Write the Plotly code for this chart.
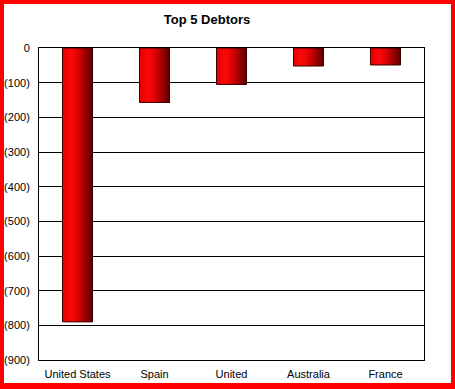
import plotly.graph_objects as go

categories = ["United States", "Spain", "United", "Australia", "France"]
values = [-790, -157, -105, -52, -49]
y_tickvals = [0, -100, -200, -300, -400, -500, -600, -700, -800, -900]
y_ticktext = ["0", "(100)", "(200)", "(300)", "(400)", "(500)", "(600)", "(700)", "(800)", "(900)"]

W, H = 455, 389
L, R, T, B = 39, 31, 48, 29
pw, ph = W - L - R, H - T - B

xs = list(range(len(categories)))
bar_w = 0.39

# gradient stops (position 0..1 across bar width)
stops = [(0.0, (225, 0, 0)), (0.3, (255, 10, 10)), (0.6, (200, 0, 0)), (1.0, (90, 0, 0))]

def col(t):
    for (p0, c0), (p1, c1) in zip(stops[:-1], stops[1:]):
        if p0 <= t <= p1:
            f = (t - p0) / (p1 - p0)
            return "rgb(%d,%d,%d)" % tuple(round(a + (b - a) * f) for a, b in zip(c0, c1))
    return "rgb(%d,%d,%d)" % stops[-1][1]

fig = go.Figure()
N = 10
sw = bar_w / N
for i in range(N):
    fig.add_trace(go.Bar(
        x=xs, y=values, width=bar_w - i * sw, offset=-bar_w / 2 + i * sw,
        marker=dict(color=col((i + 0.5) / N), line=dict(width=0)),
        showlegend=False, hoverinfo="skip"))
fig.add_trace(go.Bar(
    x=xs, y=values, width=bar_w, offset=-bar_w / 2,
    marker=dict(color="rgba(0,0,0,0)", line=dict(color="#3a0000", width=1)),
    showlegend=False, hovertext=categories, hoverinfo="text+y"))

def px_x(p):
    return (p - L) / pw

def px_y(p):
    return (H - B - p) / ph

fig.update_layout(
    width=W, height=H,
    margin=dict(l=L, r=R, t=T, b=B, autoexpand=False),
    paper_bgcolor="#ff0000",
    plot_bgcolor="rgba(0,0,0,0)",
    barmode="overlay",
    title=dict(text="<b>Top 5 Debtors</b>", x=207 / W, xref="container", xanchor="center",
               y=1 - 19 / H, yref="container", yanchor="middle",
               font=dict(family="Liberation Sans, Arial", size=13, color="black")),
    font=dict(family="Liberation Sans, Arial", size=11, color="black"),
    xaxis=dict(range=[-0.5, len(categories) - 0.5], tickvals=xs, ticktext=categories,
               showgrid=False, zeroline=False, showline=True, linecolor="black", linewidth=1,
               mirror=True, ticks="", ticklabelstandoff=4, automargin=False),
    xaxis2=dict(range=[-0.5, len(categories) - 0.5], overlaying="x", side="top", anchor="y",
                tickvals=[0.5, 1.5, 2.5, 3.5], ticks="inside", ticklen=4, tickcolor="black",
                showticklabels=False, showgrid=False, zeroline=False, showline=False,
                automargin=False),
    yaxis=dict(range=[-900, 0], tickvals=y_tickvals, ticktext=y_ticktext,
               showgrid=True, gridcolor="black", gridwidth=1, zeroline=False,
               showline=True, linecolor="black", linewidth=1, mirror=True,
               ticks="", ticklabelstandoff=6, automargin=False),
    shapes=[dict(type="rect", xref="paper", yref="paper", layer="below",
                 x0=px_x(4), x1=px_x(451), y0=px_y(383), y1=px_y(4),
                 fillcolor="white", line=dict(width=0))],
)
fig.write_html("out.html", config={"displayModeBar": False},
               post_script="document.body.style.margin='0';document.body.style.padding='0';")
